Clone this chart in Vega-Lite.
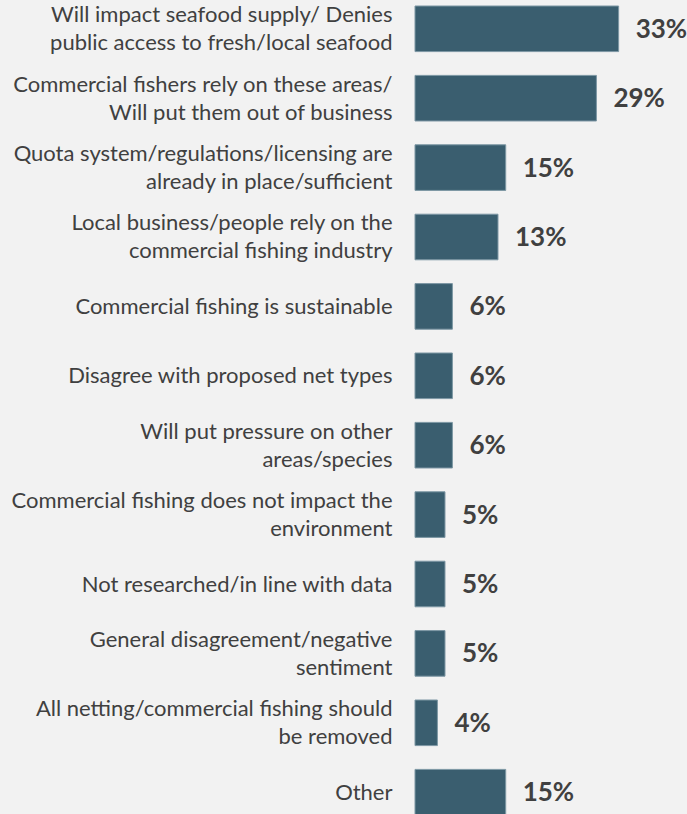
{
  "$schema": "https://vega.github.io/schema/vega-lite/v6.json",
  "width": 272,
  "height": 809,
  "autosize": {"type": "none"},
  "padding": {"left": 415, "top": 6, "right": 0, "bottom": 0},
  "background": "#f2f2f2",
  "data": {
    "values": [
      {"reason": "Will impact seafood supply/ Denies|public access to fresh/local seafood", "pct": 33.0, "label": "33%"},
      {"reason": "Commercial fishers rely on these areas/|Will put them out of business", "pct": 29.4, "label": "29%"},
      {"reason": "Quota system/regulations/licensing are|already in place/sufficient", "pct": 14.7, "label": "15%"},
      {"reason": "Local business/people rely on the|commercial fishing industry", "pct": 13.45, "label": "13%"},
      {"reason": "Commercial fishing is sustainable", "pct": 6.06, "label": "6%"},
      {"reason": "Disagree with proposed net types", "pct": 6.06, "label": "6%"},
      {"reason": "Will put pressure on other|areas/species", "pct": 6.06, "label": "6%"},
      {"reason": "Commercial fishing does not impact the|environment", "pct": 4.86, "label": "5%"},
      {"reason": "Not researched/in line with data", "pct": 4.86, "label": "5%"},
      {"reason": "General disagreement/negative|sentiment", "pct": 4.86, "label": "5%"},
      {"reason": "All netting/commercial fishing should|be removed", "pct": 3.63, "label": "4%"},
      {"reason": "Other", "pct": 14.7, "label": "15%"}
    ]
  },
  "encoding": {
    "y": {
      "field": "reason",
      "type": "nominal",
      "sort": null,
      "scale": {"paddingInner": 0.343, "paddingOuter": 0},
      "axis": {
        "title": null,
        "ticks": false,
        "domain": false,
        "labelExpr": "split(datum.label, '|')",
        "labelFont": "Lato",
        "labelFontSize": 22,
        "labelColor": "#404040",
        "labelPadding": 23,
        "labelLimit": 420,
        "labelLineHeight": 28,
        "labelOffset": {"condition": {"test": "indexof(datum.value, '|') >= 0", "value": -13.5}, "value": 0.5}
      }
    },
    "x": {
      "field": "pct",
      "type": "quantitative",
      "scale": {"domain": [0, 44.08]},
      "axis": null
    }
  },
  "layer": [
    {"mark": {"type": "bar", "color": "#3a5e6f", "stroke": "#7d97a4", "strokeWidth": 1}},
    {
      "mark": {"type": "text", "align": "left", "baseline": "middle", "dx": 17, "dy": 1, "font": "Lato", "fontSize": 26, "fontWeight": "bold", "color": "#404040"},
      "encoding": {"text": {"field": "label"}}
    }
  ],
  "config": {"view": {"stroke": null}}
}
